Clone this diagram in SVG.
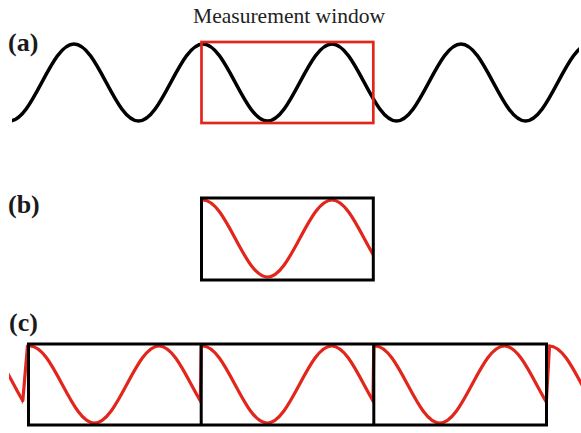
<svg xmlns="http://www.w3.org/2000/svg" width="581" height="433" viewBox="0 0 581 433">
  <style>
    .lbl { font-family: "Liberation Serif", "Times New Roman", serif; font-weight: bold; font-size: 26px; fill: #1a1a1a; }
    .title { font-family: "Liberation Serif", "Times New Roman", serif; font-size: 21px; fill: #222; }
    .wave { fill: none; stroke: #000; stroke-width: 3.6; stroke-linecap: round; stroke-linejoin: round; }
    .rwave { fill: none; stroke: #e2261c; stroke-width: 3.2; stroke-linecap: round; stroke-linejoin: round; }
    .rbox { fill: none; stroke: #e2261c; stroke-width: 2.7; }
    .kbox { fill: none; stroke: #000; stroke-width: 3; }
  </style>
  <defs>
    <path id="win" d="M-63,79 C-39.56,79 -21.94,2 1.5,2 S42.56,79 66,79 S107.06,2 130.5,2 S171.56,79 195,79"/>
    <clipPath id="cw" clipPathUnits="userSpaceOnUse"><rect x="0" y="-10" width="171.8" height="100"/></clipPath>
    <clipPath id="cf" clipPathUnits="userSpaceOnUse"><rect x="158" y="-10" width="14" height="100"/></clipPath>
    <clipPath id="cn" clipPathUnits="userSpaceOnUse"><rect x="0" y="-10" width="40" height="100"/></clipPath>
    <clipPath id="ca" clipPathUnits="userSpaceOnUse"><rect x="12" y="0" width="567" height="140"/></clipPath>
  </defs>

  <g id="title">
    <text class="title" x="289" y="23" text-anchor="middle" textLength="192" lengthAdjust="spacingAndGlyphs">Measurement window</text>
  </g>

  <g id="panel-a">
    <text class="lbl" x="8" y="51">(a)</text>
    <path class="wave" clip-path="url(#ca)" d="M9.5,121 C32.94,121 50.56,44 74,44 S115.06,121 138.5,121 S179.56,44 203,44 S244.06,121 267.5,121 S308.56,44 332,44 S373.06,121 396.5,121 S437.56,44 461,44 S502.06,121 525.5,121 S566.56,44 590,44"/>
    <rect class="rbox" x="201.5" y="42" width="171.8" height="81"/>
  </g>

  <g id="panel-b">
    <text class="lbl" x="8" y="213">(b)</text>
    <g transform="translate(201.5,198)">
      <use href="#win" class="rwave" clip-path="url(#cw)"/>
    </g>
    <rect class="kbox" x="201.5" y="198" width="171.8" height="82"/>
  </g>

  <g id="panel-c">
    <text class="lbl" x="9" y="331">(c)</text>
    <g transform="translate(-149,344)">
      <use href="#win" class="rwave" clip-path="url(#cf)"/>
    </g>
    <g transform="translate(28.5,344)">
      <use href="#win" class="rwave" clip-path="url(#cw)"/>
    </g>
    <g transform="translate(201.2,344)">
      <use href="#win" class="rwave" clip-path="url(#cw)"/>
    </g>
    <g transform="translate(373.8,344)">
      <use href="#win" class="rwave" clip-path="url(#cw)"/>
    </g>
    <g transform="translate(548,344)">
      <use href="#win" class="rwave" clip-path="url(#cn)"/>
    </g>
    <g id="jumps">
      <path class="rwave" d="M22.8,400.6 L27.5,346"/>
      <path class="rwave" d="M200.4,400.6 L201.2,346"/>
      <path class="rwave" d="M373,400.6 L373.8,346"/>
      <path class="rwave" d="M546.4,400.6 L549.5,346"/>
    </g>
    <rect class="kbox" x="28.5" y="344" width="518" height="81"/>
    <line class="kbox" x1="201.2" y1="344" x2="201.2" y2="425"/>
    <line class="kbox" x1="373.8" y1="344" x2="373.8" y2="425"/>
  </g>
</svg>
